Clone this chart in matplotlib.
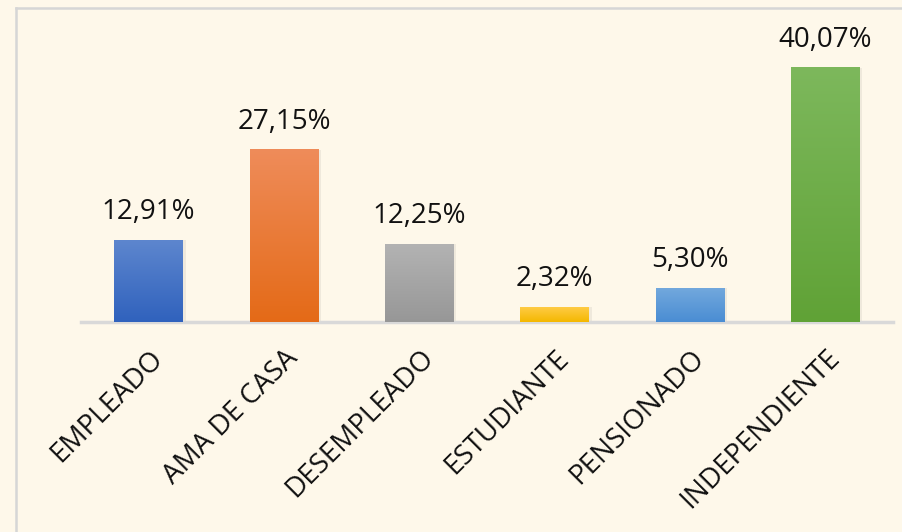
import numpy as np
import matplotlib.pyplot as plt
from matplotlib.lines import Line2D
from matplotlib.colors import LinearSegmentedColormap

categorias = ['EMPLEADO', 'AMA DE CASA', 'DESEMPLEADO', 'ESTUDIANTE', 'PENSIONADO', 'INDEPENDIENTE']
valores = [12.91, 27.15, 12.25, 2.32, 5.30, 40.07]
etiquetas = ['12,91%', '27,15%', '12,25%', '2,32%', '5,30%', '40,07%']
# (arriba, abajo) de cada degradado
colores = [('#5D86CE', '#3062BD'),
           ('#EF8C5A', '#E46A17'),
           ('#B3B3B3', '#979797'),
           ('#FFCB45', '#F4B800'),
           ('#72A8DD', '#4A8DD3'),
           ('#7DB85C', '#60A236')]

fondo = '#FEF8EA'
W, H = 902, 532
fig = plt.figure(figsize=(W / 100, H / 100), dpi=100, facecolor=fondo)
plt.rcParams['font.family'] = ['Open Sans', 'DejaVu Sans']

# ejes en pixeles de la figura
izq, der, base, tope = 81, 893, 322, 30
ax = fig.add_axes([izq / W, (H - base) / H, (der - izq) / W, (base - tope) / H])
ax.set_facecolor(fondo)

x = np.arange(len(categorias))
barras = ax.bar(x, valores, width=0.505, color='none', zorder=2)

grad = np.linspace(0, 1, 256).reshape(-1, 1)
for b, (c_top, c_bot), txt in zip(barras, colores, etiquetas):
    x0, w, h = b.get_x(), b.get_width(), b.get_height()
    # sombra suave
    ax.bar(x0 + w / 2 + 0.012, h, width=w + 0.02, color='#000000', alpha=0.06, zorder=1)
    cmap = LinearSegmentedColormap.from_list('g', [c_bot, c_top])
    ax.imshow(grad, cmap=cmap, extent=(x0, x0 + w, 0, h), origin='lower',
              aspect='auto', zorder=3)
    ax.text(x0 + w / 2, h + 2.2, txt, ha='center', va='bottom', fontsize=20,
            color='#111111', zorder=4)

ax.set_xlim(-0.5, len(categorias) - 0.5)
ax.set_ylim(0, 46)

for s in ['top', 'right', 'left']:
    ax.spines[s].set_visible(False)
ax.spines['bottom'].set_color('#D9D9D9')
ax.spines['bottom'].set_linewidth(2.5)
ax.set_yticks([])
ax.set_xticks(x)
ax.set_xticklabels(categorias, rotation=45, ha='right', rotation_mode='anchor',
                   fontsize=20, color='#111111')
ax.tick_params(axis='x', length=0, pad=16)

# borde del area del grafico
fig.add_artist(Line2D([16 / W, 16 / W], [0, 1 - 8 / H], color='#D6D6D6', lw=1.8))
fig.add_artist(Line2D([16 / W, 1], [1 - 8 / H, 1 - 8 / H], color='#D6D6D6', lw=1.8))

fig.savefig('out.png', dpi=100, facecolor=fondo)
